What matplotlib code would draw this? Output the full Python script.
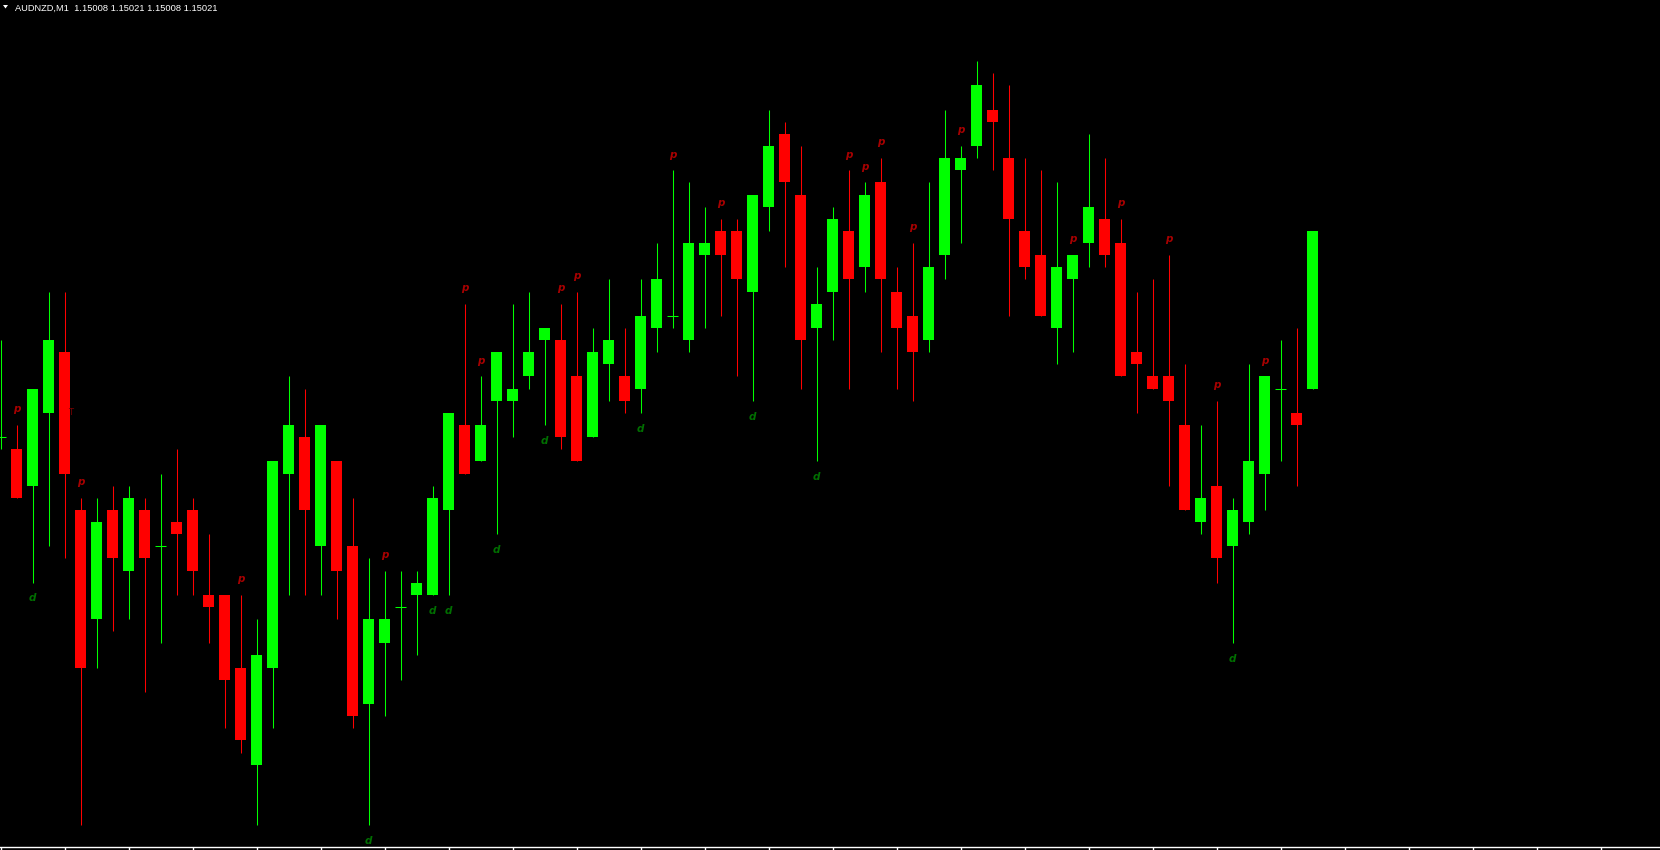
import numpy as np
import matplotlib.pyplot as plt
from matplotlib.patches import Polygon


# candle data, AUDNZD M1 (prices)

symbol = "AUDNZD,M1"

opens = [1.15004, 1.15003, 1.15000, 1.15006, 1.15011, 1.14998, 1.14989, 1.14998, 1.14993, 1.14998,
         1.14995, 1.14997, 1.14998, 1.14991, 1.14991, 1.14985, 1.14977, 1.14985, 1.15001, 1.15004,
         1.14995, 1.15002, 1.14995, 1.14982, 1.14987, 1.14990, 1.14991, 1.14991, 1.14998, 1.15005,
         1.15002, 1.15007, 1.15007, 1.15009, 1.15012, 1.15012, 1.15009, 1.15004, 1.15010, 1.15009,
         1.15008, 1.15013, 1.15014, 1.15012, 1.15019, 1.15021, 1.15021, 1.15016, 1.15023, 1.15029,
         1.15024, 1.15013, 1.15016, 1.15021, 1.15018, 1.15025, 1.15016, 1.15014, 1.15012, 1.15019,
         1.15026, 1.15028, 1.15031, 1.15027, 1.15021, 1.15019, 1.15013, 1.15017, 1.15020, 1.15022,
         1.15020, 1.15011, 1.15009, 1.15009, 1.15005, 1.14997, 1.15000, 1.14995, 1.14997, 1.15001,
         1.15008, 1.15006, 1.15008]
highs = [1.15012, 1.15005, 1.15008, 1.15016, 1.15016, 1.14999, 1.14999, 1.15000, 1.15000, 1.14999,
         1.15001, 1.15003, 1.14999, 1.14996, 1.14991, 1.14991, 1.14989, 1.15002, 1.15009, 1.15008,
         1.15005, 1.15002, 1.14999, 1.14994, 1.14993, 1.14993, 1.14993, 1.15000, 1.15006, 1.15015,
         1.15009, 1.15011, 1.15015, 1.15016, 1.15013, 1.15015, 1.15016, 1.15013, 1.15017, 1.15013,
         1.15017, 1.15020, 1.15026, 1.15025, 1.15023, 1.15022, 1.15022, 1.15024, 1.15031, 1.15030,
         1.15028, 1.15018, 1.15023, 1.15026, 1.15025, 1.15027, 1.15018, 1.15020, 1.15025, 1.15031,
         1.15028, 1.15035, 1.15034, 1.15033, 1.15027, 1.15026, 1.15025, 1.15019, 1.15029, 1.15027,
         1.15022, 1.15016, 1.15017, 1.15019, 1.15010, 1.15005, 1.15007, 1.14999, 1.15010, 1.15009,
         1.15012, 1.15013, 1.15021]
lows = [1.15003, 1.14999, 1.14992, 1.14995, 1.14994, 1.14972, 1.14985, 1.14988, 1.14989, 1.14983,
        1.14987, 1.14991, 1.14991, 1.14987, 1.14980, 1.14978, 1.14972, 1.14980, 1.14991, 1.14991,
        1.14991, 1.14989, 1.14980, 1.14972, 1.14981, 1.14984, 1.14986, 1.14991, 1.14991, 1.15001,
        1.15002, 1.14996, 1.15004, 1.15008, 1.15005, 1.15003, 1.15002, 1.15004, 1.15007, 1.15006,
        1.15006, 1.15011, 1.15013, 1.15011, 1.15013, 1.15014, 1.15009, 1.15007, 1.15021, 1.15018,
        1.15008, 1.15002, 1.15012, 1.15008, 1.15016, 1.15011, 1.15008, 1.15007, 1.15011, 1.15017,
        1.15020, 1.15027, 1.15026, 1.15014, 1.15017, 1.15014, 1.15010, 1.15011, 1.15018, 1.15018,
        1.15009, 1.15006, 1.15008, 1.15000, 1.14998, 1.14996, 1.14992, 1.14987, 1.14996, 1.14998,
        1.15002, 1.15000, 1.15008]
closes = [1.15004, 1.14999, 1.15008, 1.15012, 1.15001, 1.14985, 1.14997, 1.14994, 1.14999, 1.14994,
          1.14995, 1.14996, 1.14993, 1.14990, 1.14984, 1.14979, 1.14986, 1.15002, 1.15005, 1.14998,
          1.15005, 1.14993, 1.14981, 1.14989, 1.14989, 1.14990, 1.14992, 1.14999, 1.15006, 1.15001,
          1.15005, 1.15011, 1.15008, 1.15011, 1.15013, 1.15004, 1.15002, 1.15011, 1.15012, 1.15007,
          1.15014, 1.15017, 1.15014, 1.15020, 1.15020, 1.15019, 1.15017, 1.15024, 1.15028, 1.15025,
          1.15012, 1.15015, 1.15022, 1.15017, 1.15024, 1.15017, 1.15013, 1.15011, 1.15018, 1.15027,
          1.15027, 1.15033, 1.15030, 1.15022, 1.15018, 1.15014, 1.15018, 1.15019, 1.15023, 1.15019,
          1.15009, 1.15010, 1.15008, 1.15007, 1.14998, 1.14999, 1.14994, 1.14998, 1.15002, 1.15009,
          1.15008, 1.15005, 1.15021]

# fractal arrows of the indicator (candle index)
up_marks = [1, 5, 15, 24, 29, 30, 35, 36, 42, 45, 53, 54, 55, 57, 60, 67, 70, 73, 76, 79]
down_marks = [2, 23, 27, 28, 31, 34, 40, 47, 51, 77]


# colours and sizes

bull_color = '#00FF00'
bear_color = '#FF0000'
up_mark_color = '#A80000'
down_mark_color = '#007000'
body_width = 11 / 16
pt = 0.00001

opens = np.array(opens)
highs = np.array(highs)
lows = np.array(lows)
closes = np.array(closes)
x = np.arange(len(opens))
bull = closes >= opens


# figure, one axes over the whole picture (time axis line at the bottom)

fig = plt.figure(figsize=(16.6, 8.5), dpi=100, facecolor='black')
ax = fig.add_axes([0, 3 / 850, 1, 847 / 850])
ax.set_facecolor('black')


# wicks

colors = np.where(bull, bull_color, bear_color)
ax.vlines(x, lows, highs, colors=colors, linewidth=0.75, zorder=2)


# bodies

body_low = np.minimum(opens, closes)
body_high = np.maximum(opens, closes)
solid = body_high > body_low
ax.bar(x[solid], (body_high - body_low)[solid], bottom=body_low[solid], width=body_width,
       color=colors[solid], linewidth=0, zorder=3)

# doji candles get a short horizontal stroke
doji = ~solid
ax.hlines(opens[doji], x[doji] - body_width / 2, x[doji] + body_width / 2,
          colors=colors[doji], linewidth=0.75, zorder=3)


# fractal arrows

for i in up_marks:
    ax.text(i, highs[i] + 1.3 * pt, 'p', color=up_mark_color, fontsize=7.5, fontweight='bold',
            style='italic', ha='center', va='center', zorder=4)
for i in down_marks:
    ax.text(i, lows[i] - 1.3 * pt, 'd', color=down_mark_color, fontsize=7.5, fontweight='bold',
            style='italic', ha='center', va='center', zorder=4)

# small leftover glyph next to candle 4
ax.text(4.2, 1.15006, 'T', color='#7A0000', fontsize=6, ha='left', va='center', zorder=4)


# axis limits (pixel grid of the terminal: 16 px per bar, ~12.13 px per point)

ax.set_xlim(-0.5 / 16, 1659.5 / 16)
ax.set_ylim(1.15 - 29.79 * pt, 1.15 + 40.04 * pt)


# frame: only the bottom time axis line with ticks every 4 bars

for pos in ['left', 'right', 'top']:
    ax.spines[pos].set_visible(False)
ax.spines['bottom'].set_color('white')
ax.spines['bottom'].set_linewidth(1)
ax.set_xticks(np.arange(0, 104, 4))
ax.set_xticklabels([])
ax.set_yticks([])
ax.tick_params(axis='x', direction='out', length=2.5, width=1, color='white')


# header text

header = "{}  {:.5f} {:.5f} {:.5f} {:.5f}".format(symbol, opens[-1], highs[-1], lows[-1], closes[-1])
fig.text(15 / 1660, 1 - 10.5 / 850, header, color='white', fontsize=6.7,
         family='Liberation Sans', va='baseline', ha='left')
fig.patches.append(Polygon([[3 / 1660, 1 - 5 / 850], [8 / 1660, 1 - 5 / 850], [5.5 / 1660, 1 - 8.5 / 850]],
                           closed=True, transform=fig.transFigure, facecolor='white', edgecolor='none'))


plt.savefig("out.png", dpi=100, facecolor='black')
